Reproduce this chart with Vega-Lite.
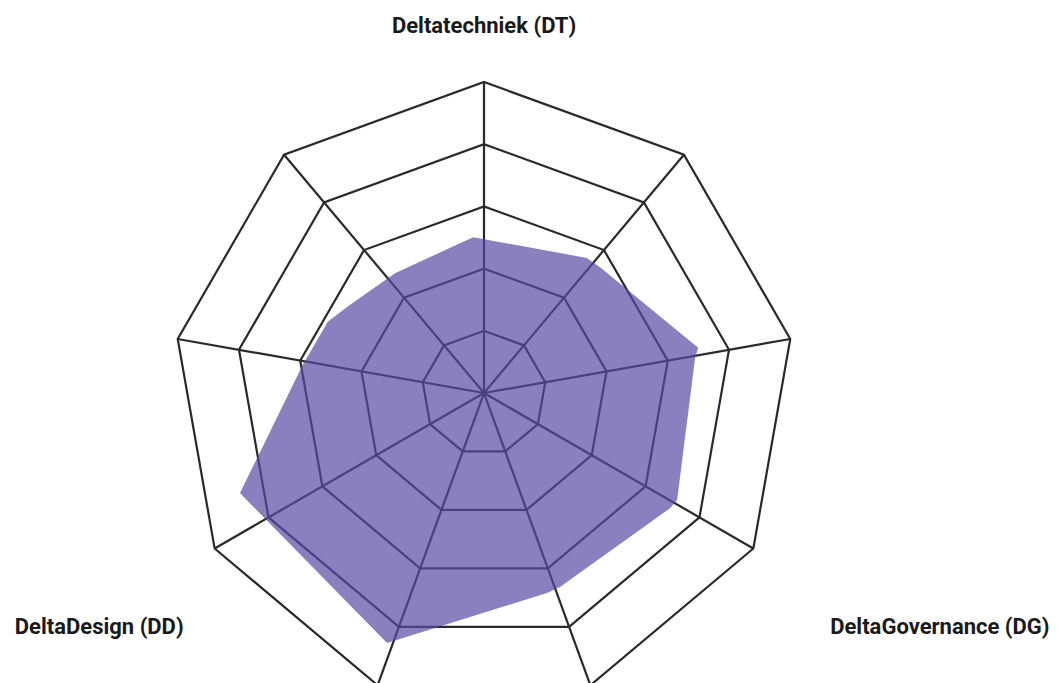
{
  "$schema": "https://vega.github.io/schema/vega-lite/v6.json",
  "width": 1057,
  "height": 683,
  "padding": 0,
  "autosize": {"type": "none"},
  "background": "white",
  "config": {"view": {"stroke": null}},
  "datasets": {
    "axes": [
      {"angle": 10, "levels": [1, 2, 3, 4, 5]},
      {"angle": 50, "levels": [1, 2, 3, 4, 5]},
      {"angle": 90, "levels": [1, 2, 3, 4, 5]},
      {"angle": 130, "levels": [1, 2, 3, 4, 5]},
      {"angle": 170, "levels": [1, 2, 3, 4, 5]},
      {"angle": 210, "levels": [1, 2, 3, 4, 5]},
      {"angle": 250, "levels": [1, 2, 3, 4, 5]},
      {"angle": 290, "levels": [1, 2, 3, 4, 5]},
      {"angle": 330, "levels": [1, 2, 3, 4, 5]}
    ],
    "shape": [
      {"angle": -72.5, "value": 3.37},
      {"angle": -68.6, "value": 3.35},
      {"angle": -31.7, "value": 3.52},
      {"angle": -29.0, "value": 3.55},
      {"angle": 9.4, "value": 3.44},
      {"angle": 11.9, "value": 3.52},
      {"angle": 47.4, "value": 2.75},
      {"angle": 52.7, "value": 2.73},
      {"angle": 94.0, "value": 2.51},
      {"angle": 126.6, "value": 2.40},
      {"angle": 147.9, "value": 2.60},
      {"angle": 155.5, "value": 2.76},
      {"angle": 171.2, "value": 2.95},
      {"angle": 202.3, "value": 4.24},
      {"angle": 248.8, "value": 4.31}
    ],
    "labels": [
      {"label": "Deltatechniek (DT)", "angle": 90, "value": 5.9},
      {"label": "DeltaDesign (DD)", "angle": 211.3, "value": 7.24},
      {"label": "DeltaGovernance (DG)", "angle": -27.2, "value": 8.24}
    ]
  },
  "layer": [
    {
      "data": {"name": "axes"},
      "transform": [
        {"flatten": ["levels"]},
        {"calculate": "datum.levels * cos(datum.angle * PI / 180)", "as": "x"},
        {"calculate": "datum.levels * sin(datum.angle * PI / 180)", "as": "y"}
      ],
      "mark": {"type": "line", "interpolate": "linear-closed", "stroke": "#2a2a2a", "strokeWidth": 2.2},
      "encoding": {
        "x": {"field": "x", "type": "quantitative", "axis": null, "scale": {"domain": [-7.781, 9.212], "nice": false, "zero": false}},
        "y": {"field": "y", "type": "quantitative", "axis": null, "scale": {"domain": [-4.662, 6.318], "nice": false, "zero": false}},
        "detail": {"field": "levels", "type": "nominal"},
        "order": {"field": "angle", "type": "quantitative"}
      }
    },
    {
      "data": {"name": "axes"},
      "transform": [
        {"calculate": "5 * cos(datum.angle * PI / 180)", "as": "x"},
        {"calculate": "5 * sin(datum.angle * PI / 180)", "as": "y"}
      ],
      "mark": {"type": "rule", "stroke": "#2a2a2a", "strokeWidth": 2.2},
      "encoding": {
        "x": {"field": "x", "type": "quantitative", "axis": null, "scale": {"domain": [-7.781, 9.212], "nice": false, "zero": false}},
        "y": {"field": "y", "type": "quantitative", "axis": null, "scale": {"domain": [-4.662, 6.318], "nice": false, "zero": false}},
        "x2": {"datum": 0},
        "y2": {"datum": 0}
      }
    },
    {
      "data": {"name": "shape"},
      "transform": [
        {"calculate": "datum.value * cos(datum.angle * PI / 180)", "as": "x"},
        {"calculate": "datum.value * sin(datum.angle * PI / 180)", "as": "y"}
      ],
      "mark": {"type": "line", "interpolate": "linear-closed", "fill": "#584aa4", "fillOpacity": 0.7, "strokeWidth": 0, "stroke": null},
      "encoding": {
        "x": {"field": "x", "type": "quantitative", "axis": null, "scale": {"domain": [-7.781, 9.212], "nice": false, "zero": false}},
        "y": {"field": "y", "type": "quantitative", "axis": null, "scale": {"domain": [-4.662, 6.318], "nice": false, "zero": false}},
        "order": {"field": "angle", "type": "quantitative"}
      }
    },
    {
      "data": {"name": "labels"},
      "transform": [
        {"calculate": "datum.value * cos(datum.angle * PI / 180)", "as": "x"},
        {"calculate": "datum.value * sin(datum.angle * PI / 180)", "as": "y"}
      ],
      "mark": {"type": "text", "font": "Roboto", "fontWeight": "bold", "fontSize": 22, "color": "#1a1a1a", "align": "center", "baseline": "middle"},
      "encoding": {
        "x": {"field": "x", "type": "quantitative", "axis": null, "scale": {"domain": [-7.781, 9.212], "nice": false, "zero": false}},
        "y": {"field": "y", "type": "quantitative", "axis": null, "scale": {"domain": [-4.662, 6.318], "nice": false, "zero": false}},
        "text": {"field": "label", "type": "nominal"}
      }
    }
  ]
}
